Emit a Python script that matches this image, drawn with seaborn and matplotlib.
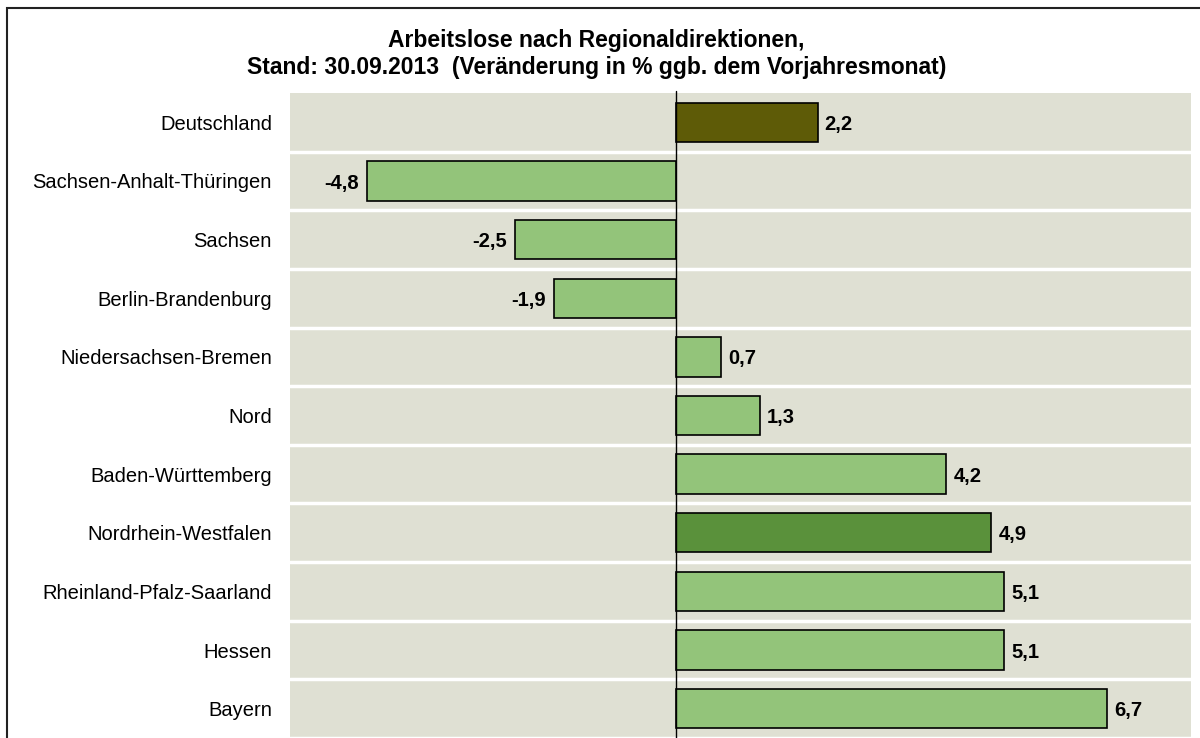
import matplotlib
matplotlib.use("Agg")
import matplotlib.pyplot as plt
from matplotlib.patches import Rectangle
import seaborn as sns
import pandas as pd

# --- data ---
regions = ["Deutschland", "Sachsen-Anhalt-Thüringen", "Sachsen", "Berlin-Brandenburg",
           "Niedersachsen-Bremen", "Nord", "Baden-Württemberg", "Nordrhein-Westfalen",
           "Rheinland-Pfalz-Saarland", "Hessen", "Bayern"]
change_pct = [2.2, -4.8, -2.5, -1.9, 0.7, 1.3, 4.2, 4.9, 5.1, 5.1, 6.7]
bar_colors = ["#5E5B07", "#93C47A", "#93C47A", "#93C47A", "#93C47A", "#93C47A",
              "#93C47A", "#5A913B", "#93C47A", "#93C47A", "#93C47A"]

title = ("Arbeitslose nach Regionaldirektionen,\n"
         "Stand: 30.09.2013  (Veränderung in % ggb. dem Vorjahresmonat)")

df = pd.DataFrame({"region": regions, "value": change_pct})

sns.set_style("white")
plt.rcParams["font.family"] = ["Liberation Sans", "DejaVu Sans"]
plt.rcParams["text.color"] = "black"
plt.rcParams["ytick.color"] = "black"

fig = plt.figure(figsize=(12, 7.38), dpi=100)
ax = fig.add_axes([290 / 1200, 0, (1191 - 290) / 1200, (738 - 93) / 738])
ax.set_facecolor("#DFE0D3")

sns.barplot(data=df, x="value", y="region", hue="region",
            palette=dict(zip(regions, bar_colors)), legend=False,
            orient="h", width=0.67, edgecolor="black", linewidth=1.2,
            saturation=1, ax=ax, zorder=3)

# white separators between the rows
for i in range(len(regions)):
    ax.axhline(i + 0.5, color="white", lw=2.5, zorder=1)

ax.axvline(0, color="black", lw=1, ymax=1.003, clip_on=False, zorder=4)
ax.set_xlim(-6, 8)
ax.set_ylim(len(regions) - 0.5, -0.5)

# value labels
for i, v in enumerate(change_pct):
    txt = f"{v:.1f}".replace(".", ",")
    off = 5 if v >= 0 else -6
    ax.annotate(txt, (v, i), xytext=(off, -1.5), textcoords="offset points",
                ha="left" if v >= 0 else "right", va="center",
                fontsize=14.5, fontweight="bold", color="black")

ax.set_xlabel(""); ax.set_ylabel("")
ax.set_xticks([])
ax.tick_params(axis="y", length=0, pad=13, labelsize=14.5, labelcolor="black")
for s in ax.spines.values():
    s.set_visible(False)

fig.text(0.497, 0.927, title, ha="center", va="center", fontsize=16.5,
         fontweight="bold", linespacing=1.2, color="black")

# outer chart frame
fig.add_artist(Rectangle((7 / 1200, -0.05), 1.1, 1 - 8 / 738 + 0.05,
                         transform=fig.transFigure, fill=False,
                         edgecolor="#222222", lw=1.5))

fig.savefig("out.png", dpi=100)
